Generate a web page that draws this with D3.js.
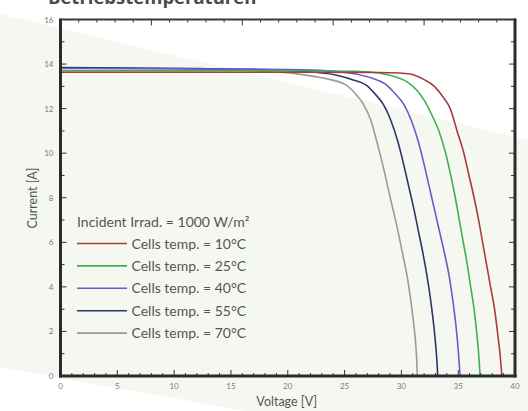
<!DOCTYPE html>
<html><head><meta charset="utf-8">
<script src="https://cdn.jsdelivr.net/npm/d3@7"></script>
<style>html,body{margin:0;padding:0;background:#fff;}svg{display:block;}</style>
</head><body>
<svg id="c" width="528" height="411"></svg>
<script>
// ---- data ----
const titleText = "Betriebstemperaturen";
const xLabel = "Voltage [V]";
const yLabel = "Current [A]";
const legendHeader = "Incident Irrad. = 1000 W/m²";
const seriesNames = ["Cells temp. = 10°C","Cells temp. = 25°C","Cells temp. = 40°C","Cells temp. = 55°C","Cells temp. = 70°C"];
const seriesColors = ["#a83c3c","#3fb14f","#6a5bc8","#33336e","#9a9a9a"];
const xTickLabels = [0,5,10,15,20,25,30,35,40];
const yTickLabels = [0,2,4,6,8,10,12,14,16];
// [voltage, current] readings
const t10 = [[0,13.63],[10,13.63],[20,13.63],[28,13.62],[29.8,13.6],[30.8,13.55],[32.0,13.3],[32.9,13.0],[33.7,12.5],[34.3,12.0],[34.9,11.0],[35.5,10.0],[35.95,9.0],[36.4,8.0],[36.8,7.0],[37.15,6.0],[37.5,5.0],[37.85,4.0],[38.2,3.0],[38.45,2.0],[38.68,1.0],[38.85,0]];
const t25 = [[0,13.7],[10,13.7],[20,13.7],[26,13.68],[28.0,13.6],[29.3,13.45],[30.5,13.2],[31.4,12.8],[32.1,12.3],[32.6,11.8],[33.3,11.0],[33.9,10.0],[34.35,9.0],[34.75,8.0],[35.1,7.0],[35.45,6.0],[35.8,5.0],[36.1,4.0],[36.4,3.0],[36.62,2.0],[36.8,1.0],[36.93,0]];
const t40 = [[0,13.8],[10,13.79],[20,13.75],[24,13.68],[26,13.55],[27.5,13.35],[28.6,13.1],[29.4,12.7],[30.2,12.2],[30.85,11.5],[31.5,10.5],[32.0,9.5],[32.45,8.5],[32.9,7.5],[33.35,6.5],[33.8,5.5],[34.2,4.5],[34.5,3.5],[34.75,2.5],[34.95,1.5],[35.1,0.5],[35.17,0]];
const t55 = [[0,13.84],[12,13.8],[18,13.75],[22,13.65],[24.3,13.5],[25.7,13.3],[26.9,13.05],[27.7,12.65],[28.4,12.2],[29.05,11.5],[29.7,10.5],[30.2,9.5],[30.65,8.5],[31.1,7.5],[31.5,6.5],[31.9,5.5],[32.25,4.5],[32.55,3.5],[32.8,2.5],[33.0,1.5],[33.15,0.5],[33.2,0]];
const t70 = [[0,13.83],[12,13.78],[17,13.7],[21,13.55],[23.3,13.35],[25.0,13.1],[25.9,12.7],[26.65,12.2],[27.3,11.5],[27.85,10.5],[28.35,9.5],[28.8,8.5],[29.25,7.5],[29.7,6.5],[30.1,5.5],[30.5,4.5],[30.8,3.5],[31.05,2.5],[31.25,1.5],[31.37,0.5],[31.4,0]];
const seriesData = [t10,t25,t40,t55,t70];

// ---- layout ----
const svg = d3.select("#c");
const L = 60.5, R = 515, T = 19.5, B = 376;
const x = d3.scaleLinear().domain([0,40]).range([L,R]);
const y = d3.scaleLinear().domain([0,16]).range([B,T]);

// background band
svg.append("rect").attr("width",528).attr("height",411).attr("fill","#ffffff");
svg.append("polygon").attr("points","0,14 528,140 528,411 245,411 0,367").attr("fill","#f5f8f0");

// title (cut off at top, as in the source)
svg.append("text").attr("x",48).attr("y",4).attr("font-family","Open Sans").attr("font-weight","bold")
  .attr("font-size",18.5).attr("fill","#4a4a4a").text(titleText);

// curves
const line = d3.line().x(d=>x(d[0])).y(d=>y(d[1])).curve(d3.curveMonotoneX);
const g = svg.append("g");
seriesData.slice().reverse().forEach((s,i)=>{
  const k = seriesData.length-1-i;
  g.append("path").attr("d",line(s)).attr("fill","none").attr("stroke",seriesColors[k]).attr("stroke-width",1.6);
});

// ticks
const tickColor = "#333";
const ax = svg.append("g").attr("stroke",tickColor).attr("stroke-width",1);
d3.range(0,41,1).forEach(v=>{
  const len = v%5===0 ? 6 : 3;
  ax.append("line").attr("x1",x(v)).attr("x2",x(v)).attr("y1",B).attr("y2",B-len);
});
d3.range(0,40.01,1.6).forEach((v,i)=>{
  const len = i%5===0 ? 6 : 3;
  ax.append("line").attr("x1",x(v)).attr("x2",x(v)).attr("y1",T).attr("y2",T+len);
});
d3.range(0,17,1).forEach(v=>{
  const len = v%2===0 ? 6 : 4;
  ax.append("line").attr("x1",L).attr("x2",L+len).attr("y1",y(v)).attr("y2",y(v));
  ax.append("line").attr("x1",R).attr("x2",R-len).attr("y1",y(v)).attr("y2",y(v));
});

// frame
svg.append("line").attr("x1",L).attr("x2",L).attr("y1",T-1).attr("y2",B+1.5).attr("stroke","#2b2b2b").attr("stroke-width",3);
svg.append("line").attr("x1",L-1.5).attr("x2",R+1.5).attr("y1",B).attr("y2",B).attr("stroke","#2b2b2b").attr("stroke-width",3);
svg.append("line").attr("x1",L).attr("x2",R+1).attr("y1",T).attr("y2",T).attr("stroke","#3a3a3a").attr("stroke-width",2);
svg.append("line").attr("x1",R).attr("x2",R).attr("y1",T-1).attr("y2",B+1.5).attr("stroke","#2b2b2b").attr("stroke-width",3);

// tick labels
const tl = svg.append("g").attr("font-family","Lato").attr("font-size",8).attr("fill","#7a7a7a");
xTickLabels.forEach(v=>{
  tl.append("text").attr("x",x(v)).attr("y",B+13).attr("text-anchor","middle").text(v);
});
yTickLabels.forEach(v=>{
  tl.append("text").attr("x",L-7).attr("y",y(v)+3).attr("text-anchor","end").text(v);
});

// axis titles
svg.append("text").attr("x",(L+R)/2-1).attr("y",406).attr("text-anchor","middle")
  .attr("font-family","Lato").attr("font-size",12.5).attr("fill","#555").text(xLabel);
svg.append("text").attr("transform","translate(37,198) rotate(-90)").attr("text-anchor","middle")
  .attr("font-family","Lato").attr("font-size",12.5).attr("fill","#555").text(yLabel);

// legend
const lg = svg.append("g").attr("font-family","Lato").attr("font-size",14).attr("fill","#555");
lg.append("text").attr("x",77).attr("y",226.5).text(legendHeader);
seriesNames.forEach((n,i)=>{
  const yy = 243.5 + i*22.4;
  lg.append("line").attr("x1",77).attr("x2",127).attr("y1",yy).attr("y2",yy)
    .attr("stroke",seriesColors[i]).attr("stroke-width",1.6);
  lg.append("text").attr("x",131.5).attr("y",yy+5).text(n);
});
</script>
</body></html>
